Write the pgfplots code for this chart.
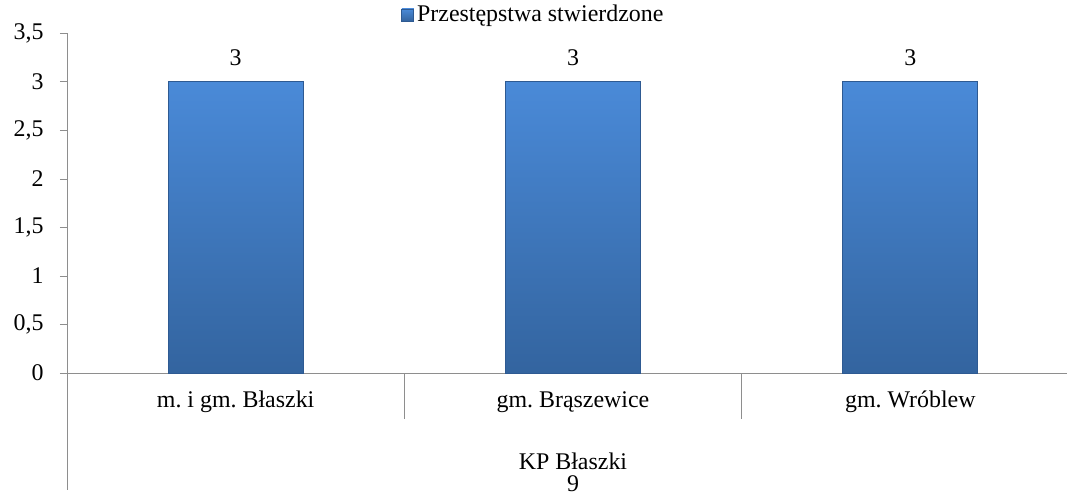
\documentclass[border=0pt]{standalone}
\usepackage{fontspec}
\setmainfont{LiberationSerif}[Extension=.ttf, UprightFont=*-Regular,
  BoldFont=*-Bold, ItalicFont=*-Italic, BoldItalicFont=*-BoldItalic]
\usepackage{pgfplots}
\pgfplotsset{compat=1.18}
\definecolor{bartop}{HTML}{4A8AD8}
\definecolor{barbot}{HTML}{33649F}
\definecolor{baredge}{HTML}{2E5A92}
\definecolor{axgray}{HTML}{8E8E8E}

\begin{document}
\frenchspacing
\fontsize{12}{14}\selectfont
\begin{tikzpicture}
  \path[use as bounding box] (0,0) rectangle (533.5bp,247bp);
  \begin{axis}[
    at={(33.5bp,60.5bp)}, anchor=south west,
    scale only axis, width=506bp, height=170bp,
    xmin=-0.5, xmax=2.5, ymin=0, ymax=3.5,
    axis x line=bottom, axis y line=left,
    axis line style={axgray, -},
    xtick={0,1,2},
    xticklabels={m. i gm. Błaszki, gm. Brąszewice, gm. Wróblew},
    x tick style={draw=none},
    ytick={0,0.5,...,3.5},
    y tick style={axgray},
    tick align=outside, major tick length=3.5bp,
    /pgf/number format/use comma,
    /pgf/number format/assume math mode=true,
    tick label style={font=\fontsize{12}{14}\selectfont},
    yticklabel style={xshift=-4bp},
    xticklabel style={yshift=-1.5bp},
    ybar, bar width=67.5bp,
    nodes near coords,
    nodes near coords style={font=\fontsize{12}{14}\selectfont, yshift=3.5bp},
    clip=false,
    legend style={draw=none, fill=none, at={(0.33,1.053)}, anchor=west,
      inner sep=0pt, font=\fontsize{12}{14}\selectfont,
      nodes={inner sep=1.5bp}},
    legend image code/.code={
      \path[top color=bartop, bottom color=barbot, draw=baredge]
        (0bp,-3bp) rectangle (6bp,3bp);},
  ]
    \addplot[top color=bartop, bottom color=barbot, draw=baredge]
      coordinates {(0,3) (1,3) (2,3)};
    \addlegendentry{Przestępstwa stwierdzone}
    \draw[axgray] (axis cs:-0.5,0) -- ([yshift=-58.5bp]axis cs:-0.5,0);
    \draw[axgray] (axis cs:0.5,0) -- ([yshift=-23bp]axis cs:0.5,0);
    \draw[axgray] (axis cs:1.5,0) -- ([yshift=-23bp]axis cs:1.5,0);
    \node[inner sep=0pt] at ([yshift=-44bp]axis cs:1,0) {KP Błaszki};
    \node[inner sep=0pt] at ([yshift=-55.5bp]axis cs:1,0) {9};
  \end{axis}
\end{tikzpicture}
\end{document}
